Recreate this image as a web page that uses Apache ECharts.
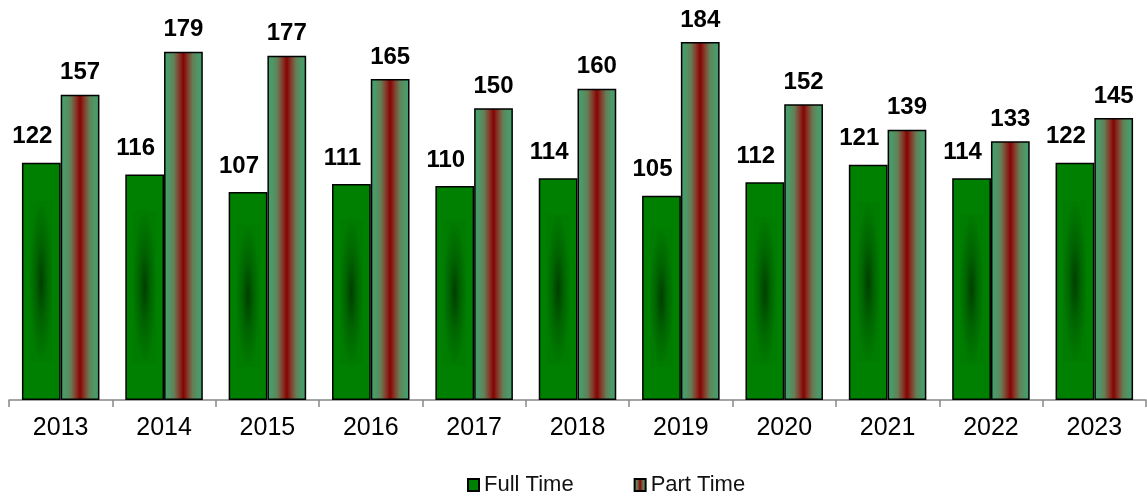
<!DOCTYPE html>
<html>
<head>
<meta charset="utf-8">
<script src="https://cdn.jsdelivr.net/npm/echarts@6/dist/echarts.min.js"></script>
<style>
html,body{margin:0;padding:0;background:#fff;}
#chart{width:1147px;height:496px;}
</style>
</head>
<body>
<div id="chart"></div>
<script>
const years = ['2013','2014','2015','2016','2017','2018','2019','2020','2021','2022','2023'];
const fullTime = [122,116,107,111,110,114,105,112,121,114,122];
const partTime = [157,179,177,165,150,160,184,152,139,133,145];
const seriesNames = ['Full Time','Part Time'];

const FONT = '"Liberation Sans", Arial, sans-serif';
const CAT_GAP = 0.25;

const chart = echarts.init(document.getElementById('chart'), null, {renderer:'canvas'});

const partGrad = {
  type:'linear', x:0, y:0, x2:1, y2:0,
  colorStops:[
    {offset:0, color:'#469d6c'},
    {offset:0.12, color:'#4c9968'},
    {offset:0.26, color:'#647f56'},
    {offset:0.38, color:'#84402e'},
    {offset:0.5, color:'#850404'},
    {offset:0.62, color:'#84402e'},
    {offset:0.74, color:'#647f56'},
    {offset:0.88, color:'#4c9968'},
    {offset:1, color:'#469d6c'}
  ]
};

const option = {
  backgroundColor:'#fff',
  animation:false,
  grid:{left:9, right:1, top:11, bottom:96, containLabel:false},
  legend:{
    data:seriesNames,
    left:462, top:469,
    icon:'rect', itemWidth:11, itemHeight:12, itemGap:60,
    textStyle:{fontFamily:FONT, fontSize:22, color:'#111'}
  },
  xAxis:{
    type:'category', data:years,
    axisLine:{lineStyle:{color:'#888', width:1.5}},
    axisTick:{show:true, length:7, lineStyle:{color:'#888', width:1.5}},
    axisLabel:{fontFamily:FONT, fontSize:25, color:'#000', margin:16}
  },
  yAxis:{
    type:'value', min:0, max:200, show:false,
    splitLine:{show:false}
  },
  series:[
    {
      name:seriesNames[0], type:'bar', data:fullTime,
      barGap:'0%', barCategoryGap:(CAT_GAP*100)+'%',
      itemStyle:{color:'#008000', borderColor:'#000', borderWidth:1.5},
      label:{show:true, position:'top', distance:14, offset:[-9,0],
        fontFamily:FONT, fontSize:24, fontWeight:'bold', color:'#000'}
    },
    {
      name:seriesNames[1], type:'bar', data:partTime,
      itemStyle:{color:partGrad, borderColor:'#000', borderWidth:1.5},
      label:{show:true, position:'top', distance:10,
        fontFamily:FONT, fontSize:24, fontWeight:'bold', color:'#000'}
    },
    {
      name:'shade', type:'custom', z:3, silent:true,
      data:fullTime.map((v,i)=>[i,v]),
      renderItem:function(params, api){
        const i = api.value(0), v = api.value(1);
        const top = api.coord([i, v]);
        const base = api.coord([i, 0]);
        const cw = api.size([1, 0])[0];
        const bw = cw * (1 - CAT_GAP) / 2;
        const x0 = base[0] - bw;
        const h = base[1] - top[1];
        return {
          type:'rect',
          x: x0 + bw*0.2, y: top[1] + h*0.16,
          scaleX: bw*0.6, scaleY: h*0.68,
          shape:{x:0, y:0, width:1, height:1},
          style:{fill:{type:'radial', x:0.5, y:0.5, r:0.5, colorStops:[
            {offset:0, color:'#003e00'},
            {offset:0.5, color:'#006400'},
            {offset:1, color:'#007c00'}
          ]}}
        };
      }
    }
  ]
};
chart.setOption(option);
</script>
</body>
</html>
